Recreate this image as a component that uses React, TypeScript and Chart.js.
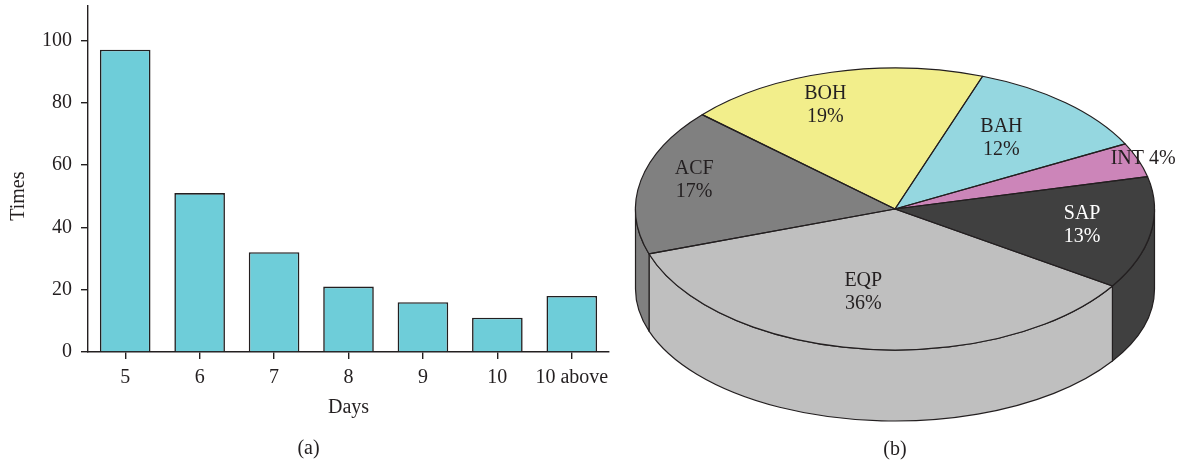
import React, { useEffect, useRef } from "react";
import { Chart, registerables } from "chart.js";

Chart.register(...registerables);

// ---- Data ----
const dayLabels = ["5", "6", "7", "8", "9", "10", "10 above"];
const timesValues = [97, 51, 32, 21, 16, 11, 18];

const typeLabels = ["BOH", "BAH", "INT", "SAP", "EQP", "ACF"];
const typeShares = [19, 12, 4, 13, 36, 17];

// ---- Styles ----
const ink = "#231f20";
const serif = "'Liberation Serif', 'Times New Roman', serif";
const font = { family: serif, size: 20 };
const barColor = "#6ecdd9";
const sliceColors = ["#f2ee8b", "#95d7e0", "#cc85b9", "#404040", "#bfbfbf", "#808080"];
const sliceTextColors = [ink, ink, ink, "#ffffff", ink, ink];
// label placement inside each slice: fraction of radius and small angular nudge (deg)
const labelRadius = [0.78, 0.65, 1.02, 0.73, 0.6, 0.8];
const labelTurn = [-6, -2, 0, -1, 4.5, 3];

// pie geometry (3D look)
const PIE_RX = 259.5;
const PIE_RY = 141;
const WALL_DEPTH = 80;
const WALL_BOTTOM_RY = 132;

// y-axis title centred on the 0..100 range
const yTitlePlugin = {
  id: "yTitle",
  afterDraw(chart: any) {
    const { ctx } = chart;
    const y = chart.scales.y.getPixelForValue(50);
    ctx.save();
    ctx.translate(19, y);
    ctx.rotate(-Math.PI / 2);
    ctx.font = `${font.size}px ${serif}`;
    ctx.fillStyle = ink;
    ctx.textAlign = "center";
    ctx.textBaseline = "middle";
    ctx.fillText("Times", 0, 0);
    ctx.restore();
  },
};

// tilted pie: side wall before the slices, squash the slices, outline + labels after
const pie3dPlugin = {
  id: "pie3d",
  beforeDatasetsDraw(chart: any) {
    const arcs = chart.getDatasetMeta(0).data;
    chart.$tilted = false;
    if (!arcs.length) return;
    const { ctx } = chart;
    const cx = arcs[0].x;
    const cy = arcs[0].y;
    const rx = arcs[0].outerRadius;
    const ry = (rx * PIE_RY) / PIE_RX;

    ctx.save();
    ctx.lineWidth = 1.2;
    ctx.strokeStyle = ink;
    ctx.lineJoin = "round";
    arcs.forEach((arc: any) => {
      const s = arc.startAngle;
      const e = arc.endAngle;
      for (const k of [-1, 0, 1]) {
        const lo = Math.max(s, 2 * Math.PI * k);
        const hi = Math.min(e, Math.PI + 2 * Math.PI * k);
        if (hi <= lo) continue;
        ctx.beginPath();
        ctx.ellipse(cx, cy, rx, ry, 0, lo, hi);
        ctx.lineTo(cx + rx * Math.cos(hi), cy + WALL_DEPTH + WALL_BOTTOM_RY * Math.sin(hi));
        ctx.ellipse(cx, cy + WALL_DEPTH, rx, WALL_BOTTOM_RY, 0, hi, lo, true);
        ctx.closePath();
        ctx.fillStyle = arc.options.backgroundColor;
        ctx.fill();
        ctx.stroke();
      }
    });
    ctx.restore();

    ctx.save();
    ctx.translate(cx, cy);
    ctx.scale(1, ry / rx);
    ctx.translate(-cx, -cy);
    chart.$tilted = true;
  },
  afterDatasetsDraw(chart: any) {
    if (!chart.$tilted) return;
    const { ctx } = chart;
    ctx.restore();
    chart.$tilted = false;

    const arcs = chart.getDatasetMeta(0).data;
    const cx = arcs[0].x;
    const cy = arcs[0].y;
    const rx = arcs[0].outerRadius;
    const ry = (rx * PIE_RY) / PIE_RX;

    ctx.save();
    ctx.lineWidth = 1.2;
    ctx.strokeStyle = ink;
    ctx.lineJoin = "round";
    arcs.forEach((arc: any) => {
      ctx.beginPath();
      ctx.moveTo(cx, cy);
      ctx.ellipse(cx, cy, rx, ry, 0, arc.startAngle, arc.endAngle);
      ctx.closePath();
      ctx.stroke();
    });

    ctx.font = `${font.size}px ${serif}`;
    ctx.textAlign = "center";
    ctx.textBaseline = "middle";
    const labels = chart.data.labels;
    const values = chart.data.datasets[0].data;
    arcs.forEach((arc: any, i: number) => {
      const mid = (arc.startAngle + arc.endAngle) / 2 + (labelTurn[i] * Math.PI) / 180;
      const f = labelRadius[i];
      const x = cx + f * rx * Math.cos(mid);
      const y = cy + f * ry * Math.sin(mid);
      ctx.fillStyle = sliceTextColors[i];
      if (values[i] < 5) {
        ctx.fillText(`${labels[i]} ${values[i]}%`, x, y);
      } else {
        ctx.fillText(labels[i], x, y - 11.5);
        ctx.fillText(`${values[i]}%`, x, y + 11.5);
      }
    });
    ctx.restore();
  },
};

function BarPanel() {
  const ref = useRef<HTMLCanvasElement>(null);
  useEffect(() => {
    const chart = new Chart(ref.current!, {
      type: "bar",
      data: {
        labels: dayLabels,
        datasets: [
          {
            data: timesValues,
            backgroundColor: barColor,
            borderColor: ink,
            borderWidth: 1.6,
            barPercentage: 0.68,
            categoryPercentage: 1,
          },
        ],
      },
      options: {
        animation: false,
        responsive: false,
        events: [],
        layout: { padding: { left: 8, right: 3, top: 6, bottom: 0 } },
        plugins: {
          legend: { display: false },
          tooltip: { enabled: false },
          title: {
            display: true,
            text: "(a)",
            position: "bottom",
            color: ink,
            font: { ...font, weight: "normal" },
            padding: { top: 0, bottom: 1 },
          },
        },
        scales: {
          x: {
            grid: {
              display: true,
              drawOnChartArea: false,
              drawTicks: true,
              tickLength: 7,
              offset: false,
              color: ink,
              lineWidth: 1.4,
            },
            border: { display: true, color: ink, width: 1.4 },
            ticks: { color: ink, font, padding: 7, maxRotation: 0, autoSkip: false },
            title: {
              display: true,
              text: "Days",
              color: ink,
              font,
              padding: { top: 4, bottom: 17 },
            },
            afterFit: (s: any) => {
              s.height = 85;
              s.paddingLeft = 0;
              s.paddingRight = 0;
            },
          },
          y: {
            min: 0,
            max: 111,
            grid: {
              display: true,
              drawOnChartArea: false,
              drawTicks: true,
              tickLength: 7,
              color: ink,
              lineWidth: 1.4,
            },
            border: { display: true, color: ink, width: 1.4 },
            ticks: { stepSize: 20, includeBounds: false, padding: 9, color: ink, font },
            afterFit: (s: any) => {
              s.width = 80;
              s.paddingTop = 0;
              s.paddingBottom = 0;
            },
          },
        },
      },
      plugins: [yTitlePlugin],
    } as any);
    return () => chart.destroy();
  }, []);
  return (
    <canvas
      ref={ref}
      width={612}
      height={462}
      style={{ position: "absolute", left: 0, top: 0, width: 612, height: 462 }}
    />
  );
}

function PiePanel() {
  const ref = useRef<HTMLCanvasElement>(null);
  useEffect(() => {
    const chart = new Chart(ref.current!, {
      type: "pie",
      data: {
        labels: typeLabels,
        datasets: [
          {
            data: typeShares,
            backgroundColor: sliceColors,
            borderWidth: 0,
            radius: PIE_RX,
            clip: false,
          },
        ],
      },
      options: {
        animation: false,
        responsive: false,
        events: [],
        rotation: -48,
        layout: { padding: { left: 0, right: 3, top: 0, bottom: 0 } },
        plugins: {
          legend: { display: false },
          tooltip: { enabled: false },
          title: {
            display: true,
            text: "(b)",
            position: "bottom",
            color: ink,
            font: { ...font, weight: "normal" },
            padding: { top: 20, bottom: 0 },
          },
        },
      },
      plugins: [pie3dPlugin],
    } as any);
    return () => chart.destroy();
  }, []);
  return (
    <canvas
      ref={ref}
      width={569}
      height={462}
      style={{ position: "absolute", left: 612, top: 0, width: 569, height: 462 }}
    />
  );
}

export default function App() {
  return (
    <div
      style={{
        position: "absolute",
        left: 0,
        top: 0,
        width: 1181,
        height: 462,
        background: "#ffffff",
        overflow: "hidden",
      }}
    >
      <BarPanel />
      <PiePanel />
    </div>
  );
}
